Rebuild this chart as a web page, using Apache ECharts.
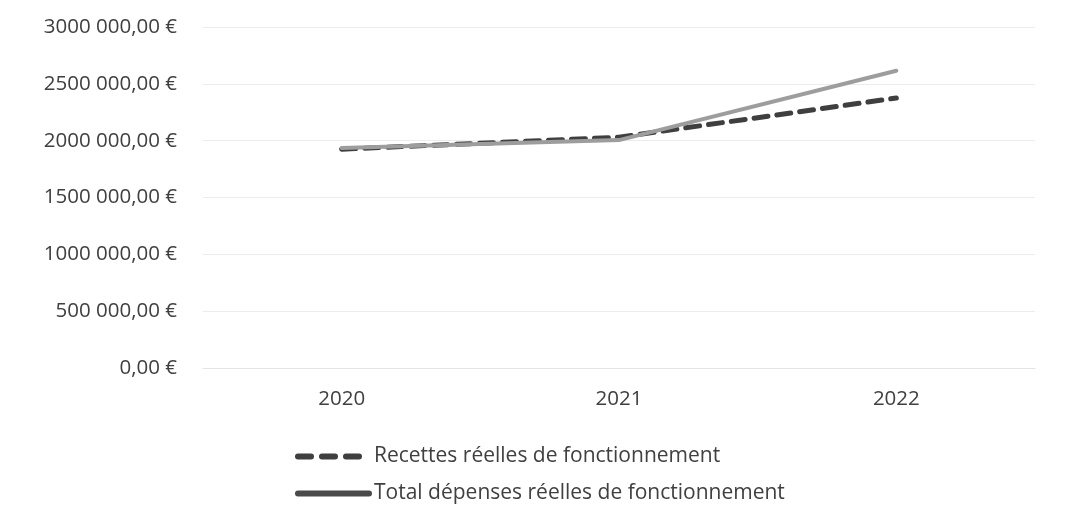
<!DOCTYPE html>
<html><head><meta charset="utf-8">
<script src="https://cdn.jsdelivr.net/npm/echarts@6/dist/echarts.min.js"></script>
<style>html,body{margin:0;padding:0;background:#fff}#c{width:1070px;height:517px}</style>
</head><body><div id="c"></div>
<script>
const categories = ['2020', '2021', '2022'];
const recettes = [1925000, 2030000, 2375000];
const depenses = [1935000, 2005000, 2615000];
const yTicks = [0, 500000, 1000000, 1500000, 2000000, 2500000, 3000000];
const seriesNames = ['Recettes réelles de fonctionnement', 'Total dépenses réelles de fonctionnement'];

function fmt(v) {
  if (v === 0) return '0,00 €';
  const th = Math.floor(v / 1000), r = v % 1000;
  return th + ' ' + String(r).padStart(3, '0') + ',00 €';
}
const font = 'Open Sans';
const chart = echarts.init(document.getElementById('c'));
chart.setOption({
  animation: false,
  backgroundColor: '#fff',
  grid: { left: 203, right: 35, top: 27, bottom: 149 },
  xAxis: {
    type: 'category', data: categories, boundaryGap: true,
    axisLine: { lineStyle: { color: '#e4e4e4', width: 1 } },
    axisTick: { show: false },
    axisLabel: { color: '#404040', fontSize: 20.5, fontFamily: font, margin: 21 }
  },
  yAxis: {
    type: 'value', min: yTicks[0], max: yTicks[yTicks.length - 1], interval: 500000,
    axisLine: { show: false }, axisTick: { show: false },
    splitLine: { lineStyle: { color: '#ececec', width: 1 } },
    axisLabel: { color: '#404040', fontSize: 20.5, fontFamily: font, margin: 26, formatter: fmt }
  },
  legend: {
    orient: 'vertical', left: 295, top: 446, itemGap: 16, padding: 0,
    itemWidth: 71, itemHeight: 10, itemTextGap: 3,
    itemStyle: { opacity: 0 },
    textStyle: { color: '#404040', fontSize: 21, fontFamily: font },
    data: [
      { name: seriesNames[0], lineStyle: { width: 6, type: [13, 11], cap: 'round', color: '#3f3f3f' } },
      { name: seriesNames[1], lineStyle: { width: 6, color: '#4a4a4a' } }
    ]
  },
  series: [
    {
      name: seriesNames[0], type: 'line', data: recettes,
      symbol: 'none', z: 2,
      itemStyle: { color: '#3f3f3f' },
      lineStyle: { color: '#3f3f3f', width: 5, type: [14, 9], cap: 'round' }
    },
    {
      name: seriesNames[1], type: 'line', data: depenses,
      symbol: 'none', z: 3,
      itemStyle: { color: '#9d9d9d' },
      lineStyle: { color: '#9d9d9d', width: 4, cap: 'round' }
    }
  ]
});
</script></body></html>
